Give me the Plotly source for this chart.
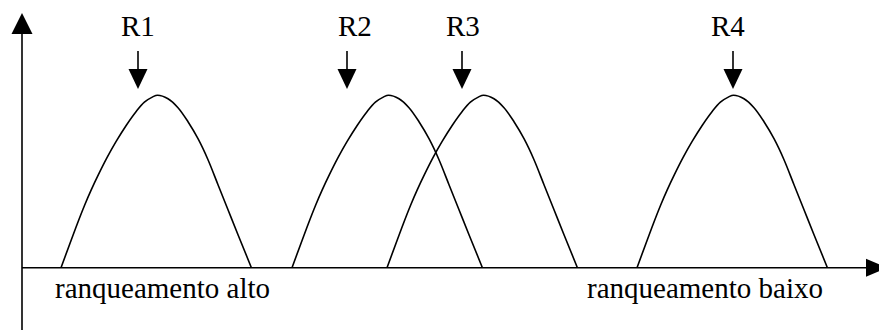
import plotly.graph_objects as go

# ---- data (units: horizontal rank position, vertical relevance height) ----
curve_names = ["R1", "R2", "R3", "R4"]
curve_start = [39, 270, 365, 615]
profile_dx = [0, 10.7, 16.7, 23.4, 30, 37.4, 46, 55, 65, 75, 83.4, 91.7, 96.5,
              107, 117, 127, 137, 147, 157, 167, 177, 190.4]
profile_h = [0, 29, 45, 62, 77.3, 93, 110, 126, 142, 156, 165.5, 170.8, 172.5,
             169, 160, 146, 129, 108, 83, 58, 33, 0]
arrow_x = [116, 325, 440, 711]
label_x = [116, 333, 441, 706]
axis_labels = ["ranqueamento alto", "ranqueamento baixo"]
axis_label_x = [140.5, 683]

# ---- style ----
FONT = "Liberation Serif"
FS = 29
LW = 1.6
X_RANGE = [-22, 857]
Y_RANGE = [-62.3, 267.7]
ARROW_TIP = 178.7
ARROW_HEAD_BASE = 198.7
ARROW_TOP = 216.7
ARROW_HALF = 9.5
LABEL_Y = 241.5
AXIS_LABEL_Y = -20.5

fig = go.Figure()

for name, s in zip(curve_names, curve_start):
    fig.add_trace(go.Scatter(
        x=[s + d for d in profile_dx], y=profile_h, mode="lines",
        line=dict(color="black", width=LW, shape="spline", smoothing=1.0),
        name=name, showlegend=False, hoverinfo="skip"))

shapes = []
# axes
shapes.append(dict(type="line", xref="x", yref="y", x0=0, x1=845,
                   y0=0, y1=0, line=dict(color="black", width=LW)))
shapes.append(dict(type="path", xref="x", yref="y",
                   path="M 844 9 L 865 0 L 844 -9 Z",
                   fillcolor="black", line=dict(color="black", width=0)))
shapes.append(dict(type="line", xref="x", yref="y", x0=0, x1=0,
                   y0=Y_RANGE[0], y1=234.7, line=dict(color="black", width=LW)))
shapes.append(dict(type="path", xref="x", yref="y",
                   path="M -10.5 233.7 L 0 254.7 L 10.5 233.7 Z",
                   fillcolor="black", line=dict(color="black", width=0)))

# arrows over the curves
for ax in arrow_x:
    shapes.append(dict(type="line", xref="x", yref="y", x0=ax, x1=ax,
                       y0=ARROW_HEAD_BASE - 1, y1=ARROW_TOP,
                       line=dict(color="black", width=LW)))
    shapes.append(dict(type="path", xref="x", yref="y",
                       path=f"M {ax-ARROW_HALF} {ARROW_HEAD_BASE} L {ax} {ARROW_TIP} L {ax+ARROW_HALF} {ARROW_HEAD_BASE} Z",
                       fillcolor="black", line=dict(color="black", width=0)))

annotations = []
for name, lx in zip(curve_names, label_x):
    annotations.append(dict(x=lx, y=LABEL_Y, xref="x", yref="y",
                            text=f"<span style='font-family:\"Liberation Serif\",\"Times New Roman\",serif'>{name}</span>",
                            showarrow=False, xanchor="center", yanchor="middle",
                            font=dict(family=FONT, size=FS, color="black")))
for t, lx in zip(axis_labels, axis_label_x):
    annotations.append(dict(x=lx, y=AXIS_LABEL_Y, xref="x", yref="y",
                            text=f"<span style='font-family:\"Liberation Serif\",\"Times New Roman\",serif'>{t}</span>",
                            showarrow=False, xanchor="center", yanchor="middle",
                            font=dict(family=FONT, size=FS, color="black")))

fig.update_layout(
    width=879, height=330, margin=dict(l=0, r=0, t=0, b=0),
    paper_bgcolor="white", plot_bgcolor="white",
    font=dict(family=FONT),
    xaxis=dict(range=X_RANGE, visible=False, fixedrange=True),
    yaxis=dict(range=Y_RANGE, visible=False, fixedrange=True),
    shapes=shapes, annotations=annotations, showlegend=False,
)

fig.write_html("out.html", config={"displayModeBar": False},
               post_script="document.body.style.margin='0px';document.body.style.padding='0px';")
